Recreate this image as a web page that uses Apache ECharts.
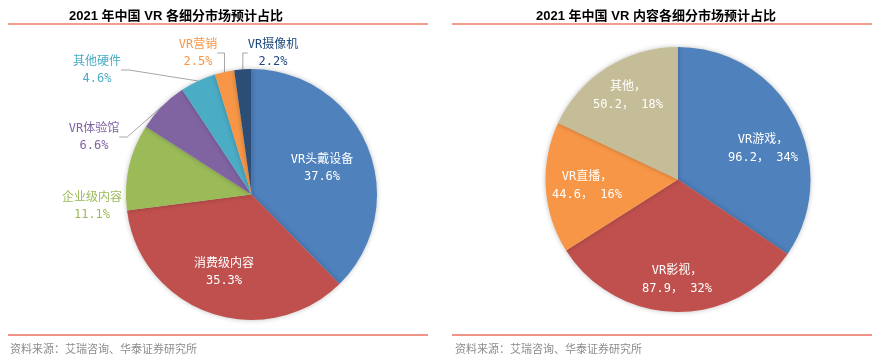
<!DOCTYPE html>
<html><head><meta charset="utf-8">
<script src="https://cdn.jsdelivr.net/npm/echarts@6/dist/echarts.min.js"></script>
<style>html,body{margin:0;padding:0;background:#fff;}#c{width:882px;height:360px;}</style>
</head><body><div id="c"></div>
<script>
// Left chart: 2021 China VR segment share (%)
const leftNames = ['VR头戴设备','消费级内容','企业级内容','VR体验馆','其他硬件','VR营销','VR摄像机'];
const leftValues = [37.6, 35.3, 11.1, 6.6, 4.6, 2.5, 2.2];
const leftColors = ['#4F81BD','#C0504D','#9BBB59','#8064A2','#4BACC6','#F79646','#2C4D75'];
const leftLabelColors = ['#ffffff','#ffffff','#9BBB59','#8064A2','#4BACC6','#F79646','#1F497D'];
const leftLabelPos = [[322,168],[224,272],[92,206],[94,137],[97,70],[198,53],[273,53]];

// Right chart: 2021 China VR content segments
const rightNames = ['VR游戏','VR影视','VR直播','其他'];
const rightValues = [96.2, 87.9, 44.6, 50.2];
const rightColors = ['#4F81BD','#C0504D','#F79646','#C4BD97'];
const rightLabelPos = [[763,149],[677,280],[587,186],[628,96]];

const FONT = '"DejaVu Sans Mono","Noto Sans CJK SC",monospace';
const chart = echarts.init(document.getElementById('c'));

const leftData = leftNames.map((n,i)=>({
  name:n, value:leftValues[i],
  itemStyle:{color:leftColors[i]},
  label:{color:leftLabelColors[i]},
  labelLine:{show: i>=3}
}));
const rightData = rightNames.map((n,i)=>({name:n, value:rightValues[i], itemStyle:{color:rightColors[i]}}));

chart.setOption({
  animation:false,
  title:[
    {text:'2021 年中国 VR 各细分市场预计占比', left:171, textAlign:'center', top:5,
     textStyle:{fontSize:13, fontWeight:'bold', color:'#000', fontFamily:'"Liberation Sans","Noto Sans CJK SC",sans-serif'}},
    {text:'2021 年中国 VR 内容各细分市场预计占比', left:651, textAlign:'center', top:5,
     textStyle:{fontSize:13, fontWeight:'bold', color:'#000', fontFamily:'"Liberation Sans","Noto Sans CJK SC",sans-serif'}}
  ],
  graphic:[
    {type:'line', shape:{x1:8,y1:24,x2:428,y2:24}, style:{stroke:'#F39C8C', lineWidth:2}},
    {type:'line', shape:{x1:452,y1:24,x2:872,y2:24}, style:{stroke:'#F39C8C', lineWidth:2}},
    {type:'line', shape:{x1:8,y1:335,x2:428,y2:335}, style:{stroke:'#EC7060', lineWidth:1.5}},
    {type:'line', shape:{x1:452,y1:335,x2:872,y2:335}, style:{stroke:'#EC7060', lineWidth:1.5}},
    {type:'text', left:10, top:343, style:{text:'资料来源：艾瑞咨询、华泰证券研究所', fill:'#8C8C8C', font:'11px "Noto Sans CJK SC",sans-serif'}},
    {type:'text', left:455, top:343, style:{text:'资料来源：艾瑞咨询、华泰证券研究所', fill:'#8C8C8C', font:'11px "Noto Sans CJK SC",sans-serif'}}
  ],
  series:[
    {
      type:'pie', center:[251.5,194.5], radius:[0,125.5], startAngle:90, clockwise:true,
      data:leftData,
      itemStyle:{shadowBlur:5, shadowColor:'rgba(0,0,0,0.25)'},
      label:{show:true, position:'outside', fontSize:12, fontFamily:FONT, lineHeight:17,
        formatter:p=>p.name+'\n'+p.value.toFixed(1)+'%'},
      labelLine:{show:true, length:8, length2:8, lineStyle:{color:'#A6A6A6', width:1}},
      labelLayout:p=>({x:leftLabelPos[p.dataIndex][0], y:leftLabelPos[p.dataIndex][1], align:'center', verticalAlign:'middle'})
    },
    {
      type:'pie', center:[678,179.5], radius:[0,132.5], startAngle:90, clockwise:true,
      percentPrecision:0,
      data:rightData,
      itemStyle:{shadowBlur:5, shadowColor:'rgba(0,0,0,0.25)'},
      label:{show:true, position:'inside', color:'#fff', fontSize:12, fontFamily:FONT, lineHeight:18,
        formatter:p=>p.name+'，\n'+p.value+'， '+p.percent+'%'},
      labelLine:{show:false},
      labelLayout:p=>({x:rightLabelPos[p.dataIndex][0], y:rightLabelPos[p.dataIndex][1], align:'center', verticalAlign:'middle'})
    }
  ]
});
</script></body></html>
